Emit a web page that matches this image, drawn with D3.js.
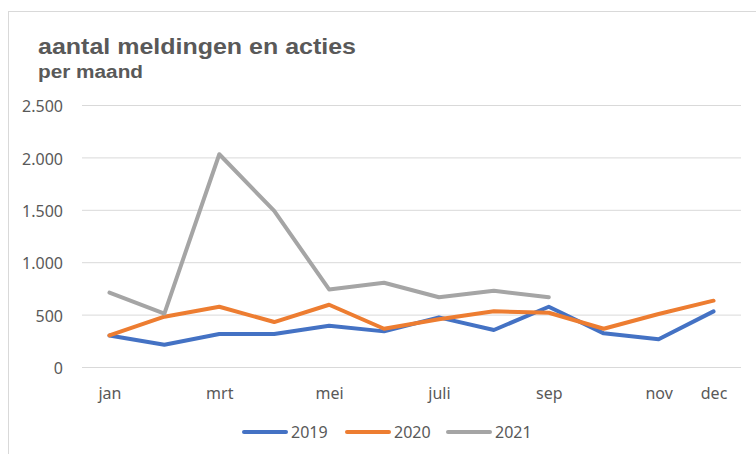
<!DOCTYPE html>
<html>
<head>
<meta charset="utf-8">
<script src="https://cdn.jsdelivr.net/npm/d3@7"></script>
<style>
	body { margin: 0; background: #fff; }
	svg { display: block; }
	.tick text { fill: #595959; font-family: "Noto Sans", sans-serif; font-size: 16px; }
</style>
</head>
<body>
<div id="chart"></div>
<script>
// data
const months = ["jan", "feb", "mrt", "apr", "mei", "jun", "juli", "aug", "sep", "okt", "nov", "dec"];
const tickLabels = ["jan", "mrt", "mei", "juli", "sep", "nov", "dec"];
const yTicks = [0, 500, 1000, 1500, 2000, 2500];
const years = ["2019", "2020", "2021"];
const values2019 = [300, 213, 315, 315, 394, 340, 474, 353, 575, 321, 264, 531];
const values2020 = [302, 480, 575, 429, 594, 365, 455, 531, 518, 365, 506, 633];
const values2021 = [710, 510, 2030, 1490, 740, 804, 665, 728, 665];
const colors = ["#4472C4", "#ED7D31", "#A5A5A5"];

const width = 756, height = 454;
const plot = { left: 82, right: 741, top: 105, bottom: 367 };

const svg = d3.select("#chart")
	.append("svg")
	.attr("width", width)
	.attr("height", height);

// chart border (only top/left are visible in the crop)
svg.append("rect")
	.attr("x", 8.5)
	.attr("y", 11.5)
	.attr("width", 760)
	.attr("height", 460)
	.attr("fill", "none")
	.attr("stroke", "#d9d9d9");

// title, stretched a bit like the original rendering
svg.append("text")
	.attr("x", 38)
	.attr("y", 54)
	.attr("fill", "#595959")
	.attr("textLength", 318)
	.attr("lengthAdjust", "spacingAndGlyphs")
	.style("font-family", "'Liberation Sans', Arial, sans-serif")
	.style("font-weight", "bold")
	.style("font-size", "22px")
	.text("aantal meldingen en acties");

svg.append("text")
	.attr("x", 38)
	.attr("y", 77.5)
	.attr("fill", "#595959")
	.attr("textLength", 105)
	.attr("lengthAdjust", "spacingAndGlyphs")
	.style("font-family", "'Liberation Sans', Arial, sans-serif")
	.style("font-weight", "bold")
	.style("font-size", "18px")
	.text("per maand");

const x = d3.scalePoint()
	.domain(months)
	.range([plot.left, plot.right])
	.padding(0.5);

const y = d3.scaleLinear()
	.domain([0, 2500])
	.range([plot.bottom, plot.top]);

const fmt = d => d3.format(",")(d).replace(/,/g, ".");

// y axis with gridlines
const yAxis = svg.append("g")
	.attr("transform", `translate(${plot.left},0)`)
	.call(d3.axisLeft(y).tickValues(yTicks).tickFormat(fmt).tickSize(-(plot.right - plot.left)).tickPadding(19));
yAxis.select(".domain").remove();
yAxis.selectAll(".tick line").attr("stroke", "#d9d9d9").attr("stroke-width", 1);
yAxis.selectAll(".tick text").attr("dy", "0.42em");

// x axis labels
const xAxis = svg.append("g")
	.attr("transform", `translate(0,${plot.bottom})`)
	.call(d3.axisBottom(x).tickValues(tickLabels).tickSize(0).tickPadding(21));
xAxis.select(".domain").remove();

// lines
const series = [values2019, values2020, values2021];
const line = d3.line()
	.x((d, i) => x(months[i]))
	.y(d => y(d));

svg.selectAll(".series")
	.data(series)
	.enter()
	.append("path")
	.attr("class", "series")
	.attr("d", d => line(d))
	.attr("fill", "none")
	.attr("stroke", (d, i) => colors[i])
	.attr("stroke-width", 4)
	.attr("stroke-linejoin", "round")
	.attr("stroke-linecap", "round");

// legend
const legendX = [244, 347, 448];
const legend = svg.selectAll(".legend")
	.data(years)
	.enter()
	.append("g")
	.attr("class", "legend")
	.attr("transform", (d, i) => `translate(${legendX[i]},432)`);

legend.append("line")
	.attr("x1", 0)
	.attr("x2", 42)
	.attr("stroke", (d, i) => colors[i])
	.attr("stroke-width", 4)
	.attr("stroke-linecap", "round");

legend.append("text")
	.attr("x", 47)
	.attr("dy", "0.36em")
	.attr("fill", "#595959")
	.style("font-family", "'Noto Sans', sans-serif")
	.style("font-size", "16px")
	.text(d => d);
</script>
</body>
</html>
